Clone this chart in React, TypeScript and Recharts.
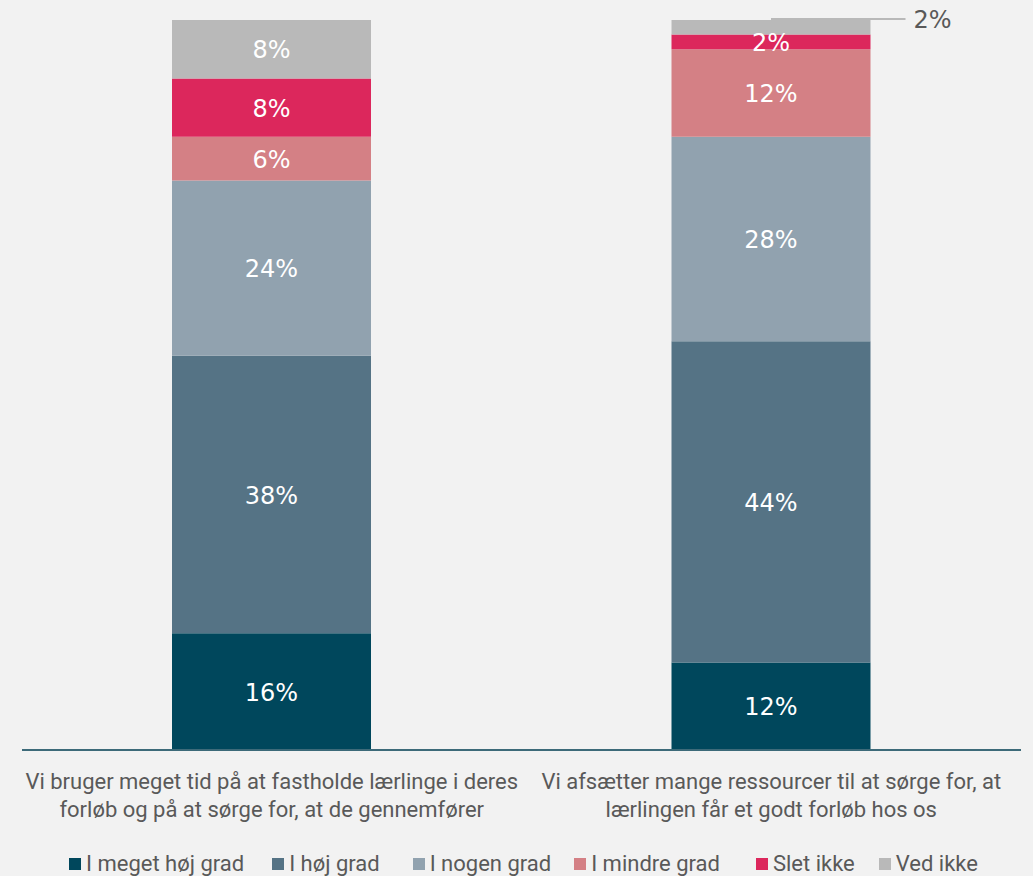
import { BarChart, Bar, XAxis, YAxis, LabelList } from 'recharts';

// ── data ──────────────────────────────────────────────────────────────────────

const categories = [
  'Vi bruger meget tid på at fastholde lærlinge i deres forløb og på at sørge for, at de gennemfører',
  'Vi afsætter mange ressourcer til at sørge for, at lærlingen får et godt forløb hos os',
];
const categoryLines = [
  ['Vi bruger meget tid på at fastholde lærlinge i deres', 'forløb og på at sørge for, at de gennemfører'],
  ['Vi afsætter mange ressourcer til at sørge for, at', 'lærlingen får et godt forløb hos os'],
];

const megetHoej = [16, 12];
const hoej = [38, 44];
const nogen = [24, 28];
const mindre = [6, 12];
const sletIkke = [8, 2];
const vedIkke = [8, 2];

const SERIES = [
  { key: 'meget', name: 'I meget høj grad', values: megetHoej, color: '#00475c' },
  { key: 'hoej', name: 'I høj grad', values: hoej, color: '#557385' },
  { key: 'nogen', name: 'I nogen grad', values: nogen, color: '#91a2af' },
  { key: 'mindre', name: 'I mindre grad', values: mindre, color: '#d48085' },
  { key: 'slet', name: 'Slet ikke', values: sletIkke, color: '#dc275c' },
  { key: 'ved', name: 'Ved ikke', values: vedIkke, color: '#b9b9b9' },
];

const data = categories.map((c, i) => {
  const row: Record<string, string | number> = { category: c };
  SERIES.forEach(s => { row[s.key] = s.values[i]; });
  return row;
});

// ── helpers ───────────────────────────────────────────────────────────────────

const TEXT = '#595959';
const LABEL_FONT = '"DejaVu Sans", Verdana, sans-serif';
const CAT_FONT = 'Roboto, "Noto Sans", sans-serif';
// spacing after each legend item (the original spaces them unevenly)
const LEGEND_GAPS = [28, 33, 23, 36, 24, 0];

function CategoryTick({ x, y, payload }: any) {
  const lines = categoryLines[payload.index] ?? [String(payload.value)];
  return (
    <text x={x} y={y} textAnchor="middle" fill={TEXT} fontSize={22} fontFamily={CAT_FONT}>
      {lines.map((l, i) => (
        <tspan key={i} x={x} dy={i === 0 ? 31 : 28}>{l}</tspan>
      ))}
    </text>
  );
}

function inside(props: any) {
  const { x, y, width, height, value } = props;
  return (
    <text
      x={x + width / 2}
      y={y + height / 2 + 1}
      textAnchor="middle"
      dominantBaseline="central"
      fill="#ffffff"
      fontSize={24}
      fontFamily={LABEL_FONT}
    >
      {value}%
    </text>
  );
}

// top segment: small values get a leader line to the right
function topLabel(props: any) {
  const { x, y, width, height, value } = props;
  if (height >= 20) return inside(props);
  const ly = y - 1;
  return (
    <g>
      <line x1={x + width / 2} y1={ly} x2={x + width + 35} y2={ly} stroke="#a6a6a6" strokeWidth={1.5} />
      <text
        x={x + width + 43}
        y={ly + 1}
        textAnchor="start"
        dominantBaseline="central"
        fill={TEXT}
        fontSize={24}
        fontFamily={LABEL_FONT}
      >
        {value}%
      </text>
    </g>
  );
}

// ── main ──────────────────────────────────────────────────────────────────────

export default function App() {
  return (
    <div
      style={{
        position: 'absolute', left: 0, top: 0, width: 1033, height: 876,
        background: '#f2f2f2', overflow: 'hidden',
      }}
    >
      <BarChart
        width={1033}
        height={840}
        data={data}
        margin={{ top: 20, right: 12, left: 22, bottom: 0 }}
      >
        <XAxis
          dataKey="category"
          height={90}
          interval={0}
          tickLine={false}
          axisLine={{ stroke: '#3d6a79', strokeWidth: 2 }}
          tick={<CategoryTick />}
        />
        <YAxis hide domain={[0, 100]} />
        {SERIES.map(s => (
          <Bar
            key={s.key}
            dataKey={s.key}
            name={s.name}
            stackId="a"
            fill={s.color}
            barSize={199}
            isAnimationActive={false}
          >
            <LabelList dataKey={s.key} content={s.key === 'ved' ? topLabel : inside} />
          </Bar>
        ))}
      </BarChart>
      <div
        style={{
          position: 'absolute', left: 69, top: 852,
          display: 'flex',
          fontFamily: CAT_FONT, fontSize: 22, color: TEXT, lineHeight: '24px',
        }}
      >
        {SERIES.map((s, i) => (
          <div key={s.key} style={{ display: 'flex', alignItems: 'center', marginRight: LEGEND_GAPS[i] }}>
            <span style={{ width: 12, height: 12, background: s.color, marginRight: 5, display: 'inline-block' }} />
            <span>{s.name}</span>
          </div>
        ))}
      </div>
    </div>
  );
}
